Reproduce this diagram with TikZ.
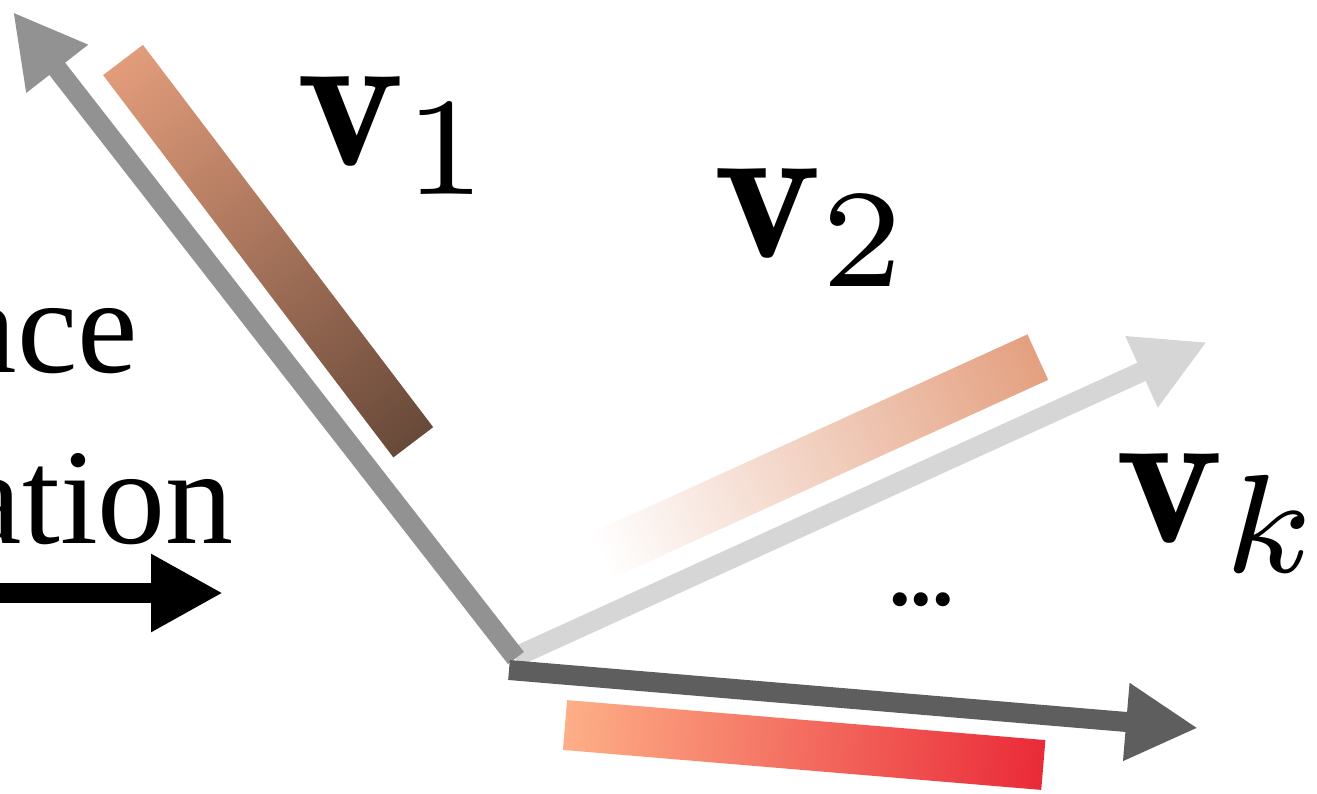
\RequirePackage{fix-cm}
\documentclass[tikz,border=0pt]{standalone}
\usepackage{fontspec}
\newfontfamily\timesfont{Liberation Serif}
\usetikzlibrary{arrows.meta}
\definecolor{vone}{RGB}{146,146,146}
\definecolor{vtwo}{RGB}{214,214,214}
\definecolor{vkcol}{RGB}{94,94,94}
\definecolor{brownA}{RGB}{226,156,123}
\definecolor{brownB}{RGB}{104,73,57}
\definecolor{salmonA}{RGB}{228,160,128}
\definecolor{redA}{RGB}{253,175,135}
\definecolor{redB}{RGB}{234,42,56}
\tikzset{
  vec/.style={line width=20pt, -{Triangle[length=72pt,width=73pt]}},
  lab/.style={xscale=20.5, yscale=20, inner sep=0pt, anchor=base west},
  bigtext/.style={inner sep=0pt, anchor=base east, font=\timesfont\fontsize{136}{160}\selectfont}
}
\begin{document}
\begin{tikzpicture}[x=1pt,y=-1pt]
\useasboundingbox (0,0) rectangle (1317,793);

% coloured bars
\begin{scope}[transform canvas={shift={(123,60)}, rotate=-52.79}]
  \shade[left color=brownA, right color=brownB] (0,-25) rectangle (480,25);
\end{scope}
\begin{scope}[transform canvas={shift={(601,556)}, rotate=24.48}]
  \shade[left color=white, right color=salmonA] (0,-25) rectangle (480,25);
\end{scope}
\begin{scope}[transform canvas={shift={(565,725)}, rotate=-4.78}]
  \shade[left color=redA, right color=redB] (0,-25) rectangle (480,25);
\end{scope}

% vectors
\coordinate (O1) at (516,658);
\coordinate (O2) at (515,657);
\coordinate (Ok) at (509,670);
\coordinate (T1) at (13,12);
\coordinate (T2) at (1207,342);
\coordinate (Tk) at (1198,728);
\draw[vec, vtwo] (O2) -- (T2);
\draw[vec, vone] (O1) -- (T1);
\draw[vec, vkcol] (Ok) -- (Tk);

% labels
\node[lab] (l1) at (292,165) {$\mathbf{v}_1$};
\node[lab] (l2) at (709,257) {$\mathbf{v}_2$};
\node[lab] (lk) at (1111,542) {$\mathbf{v}_k$};
\node[inner sep=0pt, anchor=base west, font=\timesfont\bfseries\fontsize{86}{96}\selectfont] (dots) at (889,605) {...};

% left text and arrow
\node[bigtext] (t1) at (138,372) {ace};
\node[bigtext] (t2) at (234,543) {ation};
\coordinate (A0) at (-20,593);
\coordinate (A1) at (223,593);
\draw[vec, black] (A0) -- (A1);
\end{tikzpicture}
\end{document}
